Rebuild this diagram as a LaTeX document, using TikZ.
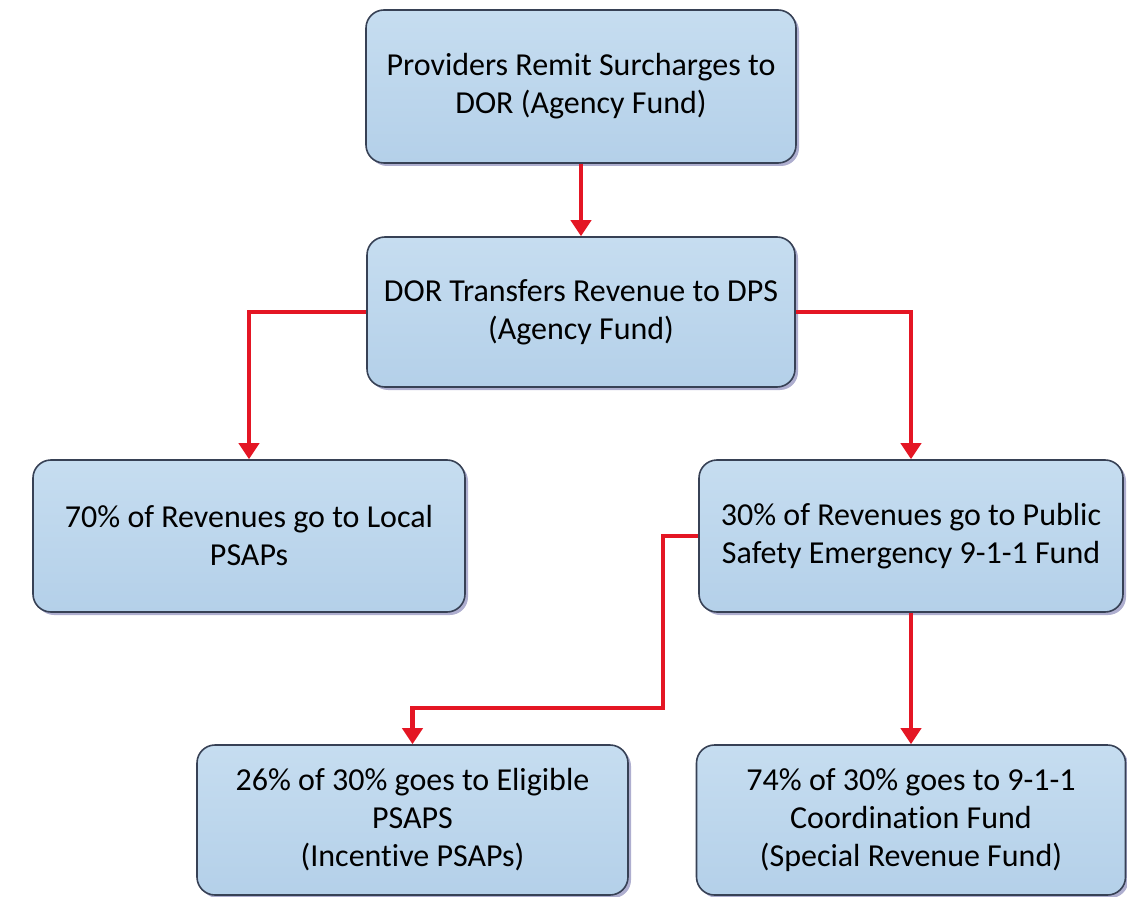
\documentclass[tikz,border=0pt]{standalone}
\usepackage{fontspec}
\setmainfont{Carlito}[Ligatures=NoCommon]
\usetikzlibrary{arrows.meta,shadows}
\definecolor{boxfill}{RGB}{198,221,240}
\definecolor{boxfilldark}{RGB}{180,208,233}
\definecolor{boxline}{RGB}{55,65,85}
\definecolor{flowred}{RGB}{228,22,36}
\definecolor{shadowcol}{RGB}{120,120,175}

\begin{document}
\begin{tikzpicture}[x=0.5pt,y=-0.5pt,
  fundbox/.style={draw=boxline,line width=0.8pt,rounded corners=9pt,
    top color=boxfill,bottom color=boxfilldark,align=center,
    font=\fontsize{16}{19}\selectfont,inner sep=0pt,
    drop shadow={shadow xshift=1.5pt,shadow yshift=-1.5pt,fill=shadowcol,opacity=0.6}},
  flow/.style={draw=flowred,line width=2.4pt,-{Triangle[length=8pt,width=10pt]}}]
\useasboundingbox (0,0) rectangle (1127,897);
\node[fundbox,minimum width=215pt,minimum height=76.5pt] (remit) at (581,86.5) {Providers Remit Surcharges to\\DOR (Agency Fund)};
\node[fundbox,minimum width=214pt,minimum height=75pt] (transfer) at (581,312) {DOR Transfers Revenue to DPS\\(Agency Fund)};
\node[fundbox,minimum width=216pt,minimum height=76pt] (local) at (249,536) {70\% of Revenues go to Local\\PSAPs};
\node[fundbox,minimum width=212pt,minimum height=76pt] (public) at (911,536) {30\% of Revenues go to Public\\Safety Emergency 9-1-1 Fund};
\node[fundbox,minimum width=215.5pt,minimum height=75pt] (eligible) at (412.5,820) {26\% of 30\% goes to Eligible\\PSAPS\\(Incentive PSAPs)};
\node[fundbox,minimum width=214.5pt,minimum height=75pt] (coord) at (911,820) {74\% of 30\% goes to 9-1-1\\Coordination Fund\\(Special Revenue Fund)};
\coordinate (bend) at (663,708);
\draw[flow] (remit) -- (transfer);
\draw[flow] (transfer.west) -| (local.north);
\draw[flow] (transfer.east) -| (public.north);
\draw[flow] (public.west) -| (bend) -| (eligible.north);
\draw[flow] (public) -- (coord);
\end{tikzpicture}
\end{document}
